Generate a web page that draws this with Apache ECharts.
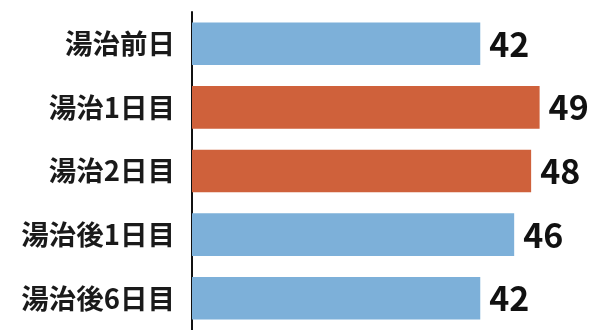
<!DOCTYPE html>
<html lang="ja">
<head>
    <meta charset="UTF-8">
    <title>湯治</title>
    <style>
    html, body { margin: 0; padding: 0; background: #fff; }
    #main { width: 589px; height: 330px; }
    </style>
</head>
<body>
    <div id="main"></div>
    <script src="https://cdn.jsdelivr.net/npm/echarts@6/dist/echarts.min.js"></script>
    <script>
    var categories = ['湯治前日', '湯治1日目', '湯治2日目', '湯治後1日目', '湯治後6日目'];
    var values = [42, 49, 48, 46, 42];
    var highlight = [false, true, true, false, false];

    var blue = '#7db0d9';
    var orange = '#cf613b';

    var myChart = echarts.init(document.getElementById('main'));
    var option = {
        animation: false,
        grid: { left: 192, right: 7, top: 12, bottom: -3, containLabel: false },
        xAxis: {
            type: 'value',
            min: 8,
            max: 54,
            show: false
        },
        yAxis: {
            type: 'category',
            inverse: true,
            data: categories,
            axisLine: { show: true, lineStyle: { color: '#111', width: 2 } },
            axisTick: { show: false },
            axisLabel: {
                margin: 17,
                color: '#1a1a1a',
                fontSize: 27.5,
                fontWeight: 'bold',
                fontFamily: 'Noto Sans CJK JP'
            }
        },
        series: [{
            type: 'bar',
            barWidth: '67%',
            data: values.map(function (v, i) {
                return { value: v, itemStyle: { color: highlight[i] ? orange : blue } };
            }),
            label: {
                show: true,
                position: 'right',
                distance: 9,
                color: '#111',
                fontSize: 34,
                fontWeight: 'bold',
                fontFamily: 'Noto Sans CJK JP'
            }
        }]
    };
    myChart.setOption(option);
    </script>
</body>
</html>
